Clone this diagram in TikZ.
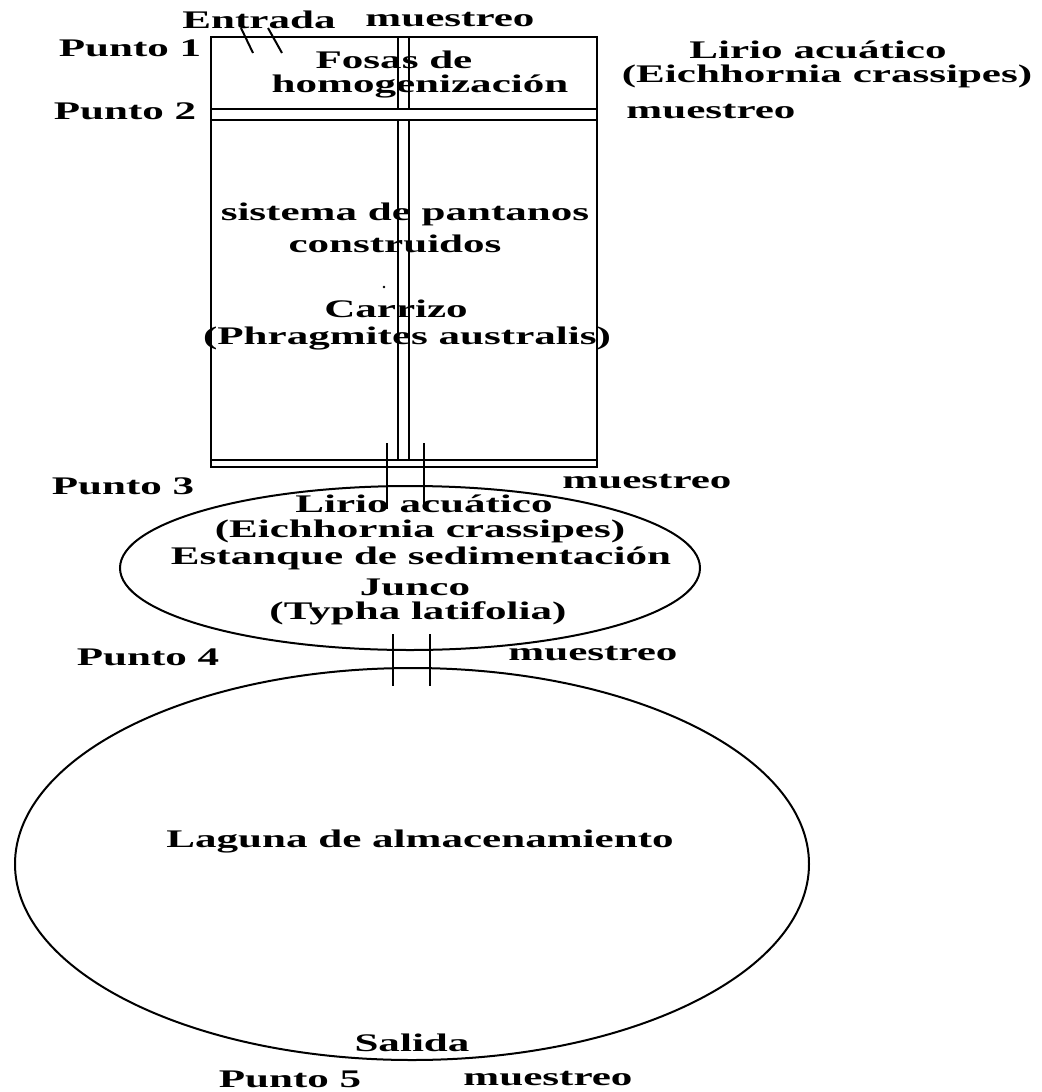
\documentclass[tikz,border=0pt]{standalone}
\usepackage{fontspec}
\setmainfont{Liberation Serif}
\tikzset{
  lbl/.style={font=\bfseries\fontsize{19}{21}\selectfont, inner sep=0pt, xscale=1.7, transform shape},
  wall/.style={line width=1.5pt}
}

\begin{document}
\begin{tikzpicture}[x=0.75pt, y=-0.75pt]
    \useasboundingbox (0,0) rectangle (1042,1092);
    \pgfmathsetmacro{\L}{211}  % left side of the wetland, units of pixels
    \pgfmathsetmacro{\R}{597}  % right side
    \pgfmathsetmacro{\T}{37}   % top
    \pgfmathsetmacro{\B}{467}  % bottom
    \coordinate (pond) at (410,568);
    \coordinate (lagoon) at (412,864);

    % wetland with homogenization pits on top
    \draw[wall] (\L,\T) rectangle (\R,\B);
    \draw[wall] (\L,109) -- (\R,109);
    \draw[wall] (\L,120) -- (\R,120);
    \draw[wall] (\L,460) -- (\R,460);
    \draw[wall] (398,\T) -- (398,109) (409,\T) -- (409,109);
    \draw[wall] (398,120) -- (398,460) (409,120) -- (409,460);
    % inlet
    \draw[wall] (241,28) -- (253,53) (268,28) -- (282,53);
    \fill (384,287) circle (1.3);

    % pipe to the settling pond
    \draw[wall] (387,443) -- (387,509) (424,443) -- (424,509);
    \draw[wall] (pond) ellipse [x radius=290, y radius=82];
    % pipe to the storage lagoon
    \draw[wall] (393,634) -- (393,686) (430,634) -- (430,686);
    \draw[wall] (lagoon) ellipse [x radius=397, y radius=196];

    \node[lbl] (entrada) at (259,20) {Entrada};
    \node[lbl] (muestreoE) at (450,20) {muestreo};
    \node[lbl] (punto1) at (130,48) {Punto 1};
    \node[lbl] (fosas) at (394,60) {Fosas de};
    \node[lbl] (homog) at (420,86) {homogenización};
    \node[lbl] (lirioA) at (818,50) {Lirio acuático};
    \node[lbl] (eichA) at (827,76) {(Eichhornia crassipes)};
    \node[lbl] (punto2) at (125,111) {Punto 2};
    \node[lbl] (muestreo2) at (711,112) {muestreo};
    \node[lbl] (sistema) at (405,214) {sistema de pantanos};
    \node[lbl] (constr) at (395,244) {construidos};
    \node[lbl] (carrizo) at (396,309) {Carrizo};
    \node[lbl] (phrag) at (407,339) {(Phragmites australis)};
    \node[lbl] (punto3) at (123,486) {Punto 3};
    \node[lbl] (muestreo3) at (647,482) {muestreo};
    \node[lbl] (lirioB) at (424,504) {Lirio acuático};
    \node[lbl] (eichB) at (420,531) {(Eichhornia crassipes)};
    \node[lbl] (estanque) at (421,558) {Estanque de sedimentación};
    \node[lbl] (junco) at (415,587) {Junco};
    \node[lbl] (typha) at (418,613) {(Typha latifolia)};
    \node[lbl] (punto4) at (148,657) {Punto 4};
    \node[lbl] (muestreo4) at (593,654) {muestreo};
    \node[lbl] (laguna) at (420,841) {Laguna de almacenamiento};
    \node[lbl] (salida) at (412,1043) {Salida};
    \node[lbl] (punto5) at (290,1079) {Punto 5};
    \node[lbl] (muestreo5) at (548,1079) {muestreo};
\end{tikzpicture}
\end{document}
